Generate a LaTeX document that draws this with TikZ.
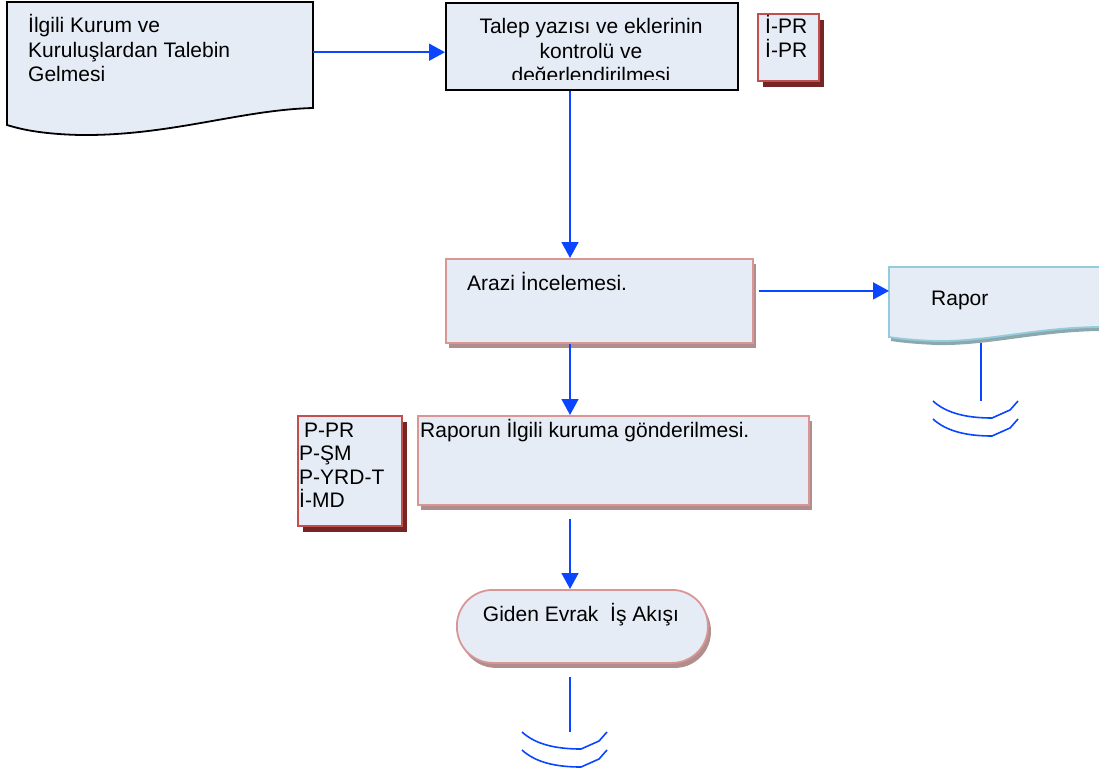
\documentclass[tikz,border=0pt]{standalone}
\usepackage{fontspec}
\setmainfont{Liberation Sans}
\usetikzlibrary{arrows.meta,positioning,shadows}

\definecolor{boxfill}{RGB}{230,236,246}
\definecolor{flowblue}{RGB}{10,70,255}
\definecolor{pinkline}{RGB}{217,150,148}
\definecolor{pinkshade}{RGB}{176,142,142}
\definecolor{redline}{RGB}{192,80,77}
\definecolor{redshade}{RGB}{118,36,36}
\definecolor{cyanline}{RGB}{147,205,221}
\definecolor{cyanshade}{RGB}{140,168,172}

\tikzset{
	txt/.style={inner sep=0pt, font=\fontsize{21}{24.5}\selectfont, align=left},
	smalltxt/.style={txt, font=\fontsize{21}{23.5}\selectfont},
	anchorbox/.style={inner sep=0pt, anchor=north west},
	plainbox/.style={anchorbox, draw=black, line width=1.8pt, fill=boxfill},
	pinkbox/.style={anchorbox, draw=pinkline, line width=1.8pt, fill=boxfill,
		general shadow={shadow xshift=3pt, shadow yshift=-5pt, fill=pinkshade}},
	redbox/.style={anchorbox, draw=redline, line width=2.4pt, fill=boxfill,
		general shadow={shadow xshift=5pt, shadow yshift=-6pt, fill=redshade}},
	flow/.style={draw=flowblue, line width=1.6pt},
	flowarrow/.style={flow, -{Triangle[length=16pt,width=17pt]}},
	endmark/.pic={
		\draw[flow] (-48,0) .. controls (-35,12) and (-15,17) .. (11,17) -- (29,9) -- (37,0);
		\draw[flow] (-48,18) .. controls (-35,30) and (-15,35) .. (11,35) -- (29,27) -- (37,18);
	}
}

\begin{document}
\begin{tikzpicture}[x=1pt,y=-1pt]
	\useasboundingbox (0,0) rectangle (1099,773);
	
	\coordinate (spine) at (570,0);
	
	% incoming request
	\node[anchorbox, minimum width=306pt, minimum height=100pt] (req) at (7,2) {};
	\draw[black, line width=1.8pt, fill=boxfill] (7,2) -- (313,2) -- (313,108)
		.. controls (240,110) and (170,136) .. (80,135)
		.. controls (40,134) and (20,129) .. (7,125) -- cycle;
	\node[txt, anchor=base west] (reqText) at (28,82) {İlgili Kurum ve\\Kuruluşlardan Talebin\\Gelmesi};
	
	\node[plainbox, minimum width=292pt, minimum height=87pt] (talep) at (445,2) {};
	\begin{scope}
		\clip (445,2) rectangle (737,80);
		\node[txt, align=center, anchor=base] (talepText) at (591,83) {Talep yazısı ve eklerinin\\kontrolü ve\\değerlendirilmesi};
	\end{scope}
	
	\node[redbox, minimum width=61pt, minimum height=67pt] (ipr) at (757,13) {};
	\node[smalltxt, anchor=base west] (iprText) at (765,57.5) {İ-PR\\İ-PR};
	
	\draw[flowarrow] (req.east) -- (req.east -| talep.west);
	
	% field survey
	\node[pinkbox, minimum width=307pt, minimum height=84pt] (arazi) at (445,258) {};
	\node[txt, anchor=base west] (araziText) at (467,290) {Arazi İncelemesi.};
	
	\draw[flowarrow] (talep.south -| spine) -- (arazi.north -| spine);
	
	\node[anchorbox, minimum width=220pt, minimum height=60pt] (rapor) at (889,267) {};
	\draw[cyanline, line width=1.8pt, fill=boxfill,
		general shadow={shadow xshift=2pt, shadow yshift=-4pt, fill=cyanshade}]
		(889,267) -- (1110,267) -- (1110,327)
		.. controls (1040,326) and (990,342) .. (935,341)
		.. controls (910,340) and (895,338) .. (889,337) -- cycle;
	\node[txt, anchor=base west] (raporText) at (931,305) {Rapor};
	
	\draw[flowarrow, shorten <=5pt] ([yshift=10pt]arazi.east) -- ([yshift=10pt]arazi.east -| rapor.west);
	
	\coordinate (raporFoot) at (981,343);
	\coordinate (raporEnd) at (981,401);
	\draw[flow] (raporFoot) -- (raporEnd);
	\pic at (raporEnd) {endmark};
	
	% sending the report
	\node[pinkbox, minimum width=391pt, minimum height=89pt] (gonder) at (417,415) {};
	\node[txt, anchor=base west] (gonderText) at (420,437) {Raporun İlgili kuruma gönderilmesi.};
	
	\node[redbox, minimum width=104pt, minimum height=110pt] (roles) at (297,415) {};
	\node[smalltxt, anchor=base west] (rolesText) at (299,507.5) {\hspace*{5pt}P-PR\\P-ŞM\\P-YRD-T\\İ-MD};
	
	\draw[flowarrow] (arazi.south -| spine) -- (gonder.north -| spine);
	
	% outgoing mail
	\node[pinkbox, rounded corners=36pt, minimum width=251pt, minimum height=73pt] (giden) at (456,589) {};
	\node[txt, anchor=base] (gidenText) at (581,621) {Giden Evrak~ İş Akışı};
	
	\draw[flowarrow, shorten <=13pt] (gonder.south -| spine) -- (giden.north -| spine);
	
	\coordinate (gidenEnd) at (570,732);
	\draw[flow, shorten <=13pt] (giden.south -| spine) -- (gidenEnd);
	\pic at (gidenEnd) {endmark};
	
\end{tikzpicture}
\end{document}
